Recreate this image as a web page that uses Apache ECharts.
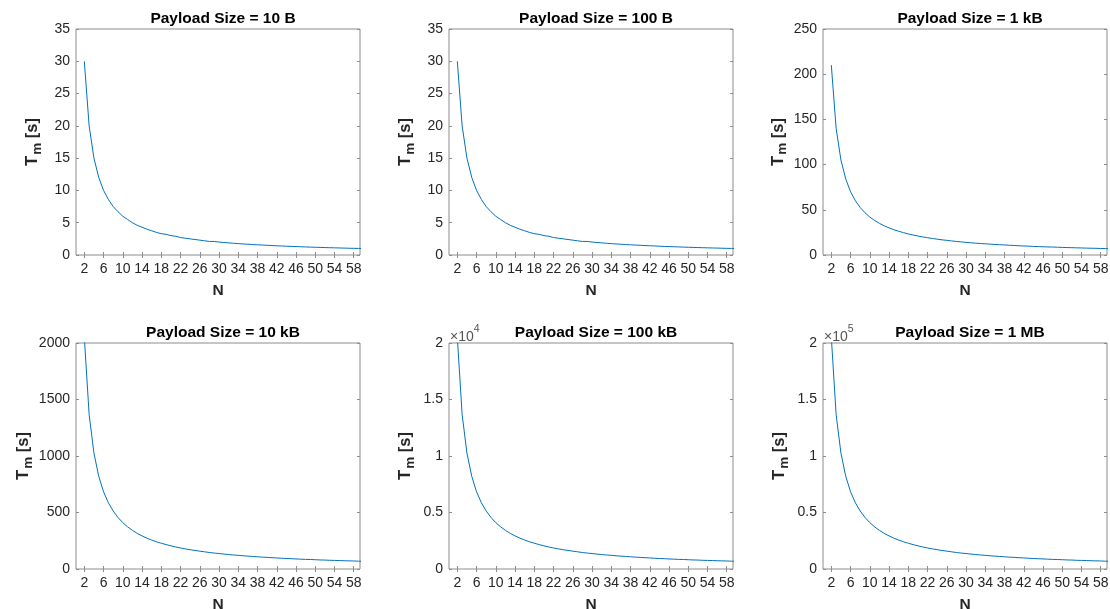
<!DOCTYPE html>
<html>
<head>
<meta charset="utf-8">
<script src="https://cdn.jsdelivr.net/npm/echarts@6/dist/echarts.min.js"></script>
<style>
    html, body { margin: 0; background: #fff; }
    #chart { width: 1110px; height: 609px; }
</style>
</head>
<body>
<div id="chart"></div>
<script>
// N values on the x axis
const nValues = [2, 3, 4, 5, 6, 7, 8, 9, 10, 11, 12, 13, 14, 15, 16, 17, 18, 19, 20, 21, 22, 23, 24, 25, 26, 27, 28, 29, 30,
    31, 32, 33, 34, 35, 36, 37, 38, 39, 40, 41, 42, 43, 44, 45, 46, 47, 48, 49, 50, 51, 52, 53, 54, 55, 56, 57, 58, 59, 60];

// Tm [s]
const tm10B = [30, 20, 15, 12, 10, 8.6, 7.5, 6.7, 6, 5.5, 5, 4.6, 4.3, 4, 3.75, 3.5, 3.3, 3.2, 3, 2.9, 2.7, 2.6, 2.5, 2.4, 2.3,
    2.2, 2.1, 2.1, 2, 1.94, 1.88, 1.82, 1.76, 1.71, 1.67, 1.62, 1.58, 1.54, 1.5, 1.46, 1.43, 1.4, 1.36, 1.33, 1.3, 1.28,
    1.25, 1.22, 1.2, 1.18, 1.15, 1.13, 1.11, 1.09, 1.07, 1.05, 1.03, 1.02, 1];
const tm100B = [30, 20, 15, 12, 10, 8.6, 7.5, 6.7, 6, 5.5, 5, 4.6, 4.3, 4, 3.75, 3.5, 3.3, 3.2, 3, 2.9, 2.7, 2.6, 2.5, 2.4, 2.3,
    2.2, 2.1, 2.1, 2, 1.94, 1.88, 1.82, 1.76, 1.71, 1.67, 1.62, 1.58, 1.54, 1.5, 1.46, 1.43, 1.4, 1.36, 1.33, 1.3, 1.28,
    1.25, 1.22, 1.2, 1.18, 1.15, 1.13, 1.11, 1.09, 1.07, 1.05, 1.03, 1.02, 1];
const tm1kB = [210, 140, 105, 84, 70, 60, 52.5, 46.7, 42, 38.2, 35, 32.3, 30, 28, 26.3, 24.7, 23.3, 22.1, 21, 20, 19.1, 18.3,
    17.5, 16.8, 16.2, 15.6, 15, 14.5, 14, 13.5, 13.1, 12.7, 12.4, 12, 11.7, 11.4, 11.1, 10.8, 10.5, 10.2, 10, 9.8, 9.5, 9.3,
    9.1, 8.9, 8.8, 8.6, 8.4, 8.2, 8.1, 7.9, 7.8, 7.6, 7.5, 7.4, 7.2, 7.1, 7];
const tm10kB = [2050, 1367, 1025, 820, 683, 586, 513, 456, 410, 373, 342, 315, 293, 273, 256, 241, 228, 216, 205, 195, 186,
    178, 171, 164, 158, 152, 146, 141, 137, 132, 128, 124, 121, 117, 114, 111, 108, 105, 103, 100, 98, 95, 93, 91, 89, 87,
    85, 84, 82, 80, 79, 77, 76, 75, 73, 72, 71, 69, 68];
const tm100kB = [20500, 13670, 10250, 8200, 6830, 5860, 5130, 4560, 4100, 3730, 3420, 3150, 2930, 2730, 2560, 2410, 2280,
    2160, 2050, 1950, 1860, 1780, 1710, 1640, 1580, 1520, 1460, 1410, 1370, 1320, 1280, 1240, 1210, 1170, 1140, 1110, 1080,
    1050, 1030, 1000, 980, 950, 930, 910, 890, 870, 850, 840, 820, 800, 790, 770, 760, 750, 730, 720, 710, 690, 680];
const tm1MB = [205000, 136700, 102500, 82000, 68300, 58600, 51300, 45600, 41000, 37300, 34200, 31500, 29300, 27300, 25600,
    24100, 22800, 21600, 20500, 19500, 18600, 17800, 17100, 16400, 15800, 15200, 14600, 14100, 13700, 13200, 12800, 12400,
    12100, 11700, 11400, 11100, 10800, 10500, 10300, 10000, 9800, 9500, 9300, 9100, 8900, 8700, 8500, 8400, 8200, 8000,
    7900, 7700, 7600, 7500, 7300, 7200, 7100, 6900, 6800];

const panelTitles = ['Payload Size = 10 B', 'Payload Size = 100 B', 'Payload Size = 1 kB',
    'Payload Size = 10 kB', 'Payload Size = 100 kB', 'Payload Size = 1 MB'];
const panelSeries = [tm10B, tm100B, tm1kB, tm10kB, tm100kB, tm1MB];
const yMax = [35, 35, 250, 2000, 20000, 200000];
const yStep = [5, 5, 50, 500, 5000, 50000];
const yScale = [1, 1, 1, 1, 1e4, 1e5]; // exponent shown as ×10^k
const xTicks = [2, 6, 10, 14, 18, 22, 26, 30, 34, 38, 42, 46, 50, 54, 58];
const xMin = 0.27, xMax = 59.3;

const chart = echarts.init(document.getElementById('chart'));

// positions of the six axes boxes (px)
const cols = [76, 449, 823];
const rows = [29, 343];
const boxW = 284, boxH = 226;

const font = 'Liberation Sans, Helvetica, Arial, sans-serif';
const axisGray = '#8c8c8c';
const labelColor = '#262626';
const lineBlue = '#0072BD';

const grids = [], xAxes = [], yAxes = [], series = [], titles = [], graphics = [];

panelTitles.forEach((title, i) => {
    const left = cols[i % 3];
    const top = rows[Math.floor(i / 3)];
    grids.push({ left: left, top: top, width: boxW, height: boxH, show: true,
        borderColor: axisGray, borderWidth: 1, backgroundColor: '#fff', outerBoundsMode: 'none' });

    titles.push({
        text: title,
        left: left + boxW / 2,
        top: top - 23,
        textAlign: 'center',
        textStyle: { fontFamily: font, fontSize: 15.5, fontWeight: 'bold', color: '#000' },
    });

    const tickStyle = { inside: true, length: 3, lineStyle: { color: axisGray } };
    // bottom x axis with labels
    xAxes.push({
        type: 'value', gridIndex: i, min: xMin, max: xMax, position: 'bottom',
        name: 'N', nameLocation: 'middle', nameGap: 28,
        nameTextStyle: { fontFamily: font, fontSize: 15.5, fontWeight: 'bold', color: labelColor },
        axisLine: { show: false },
        axisTick: Object.assign({ customValues: xTicks }, tickStyle),
        axisLabel: { customValues: xTicks, fontFamily: font, fontSize: 14, color: labelColor, margin: 7 },
        splitLine: { show: false },
    });
    // top x axis, ticks only
    xAxes.push({
        type: 'value', gridIndex: i, min: xMin, max: xMax, position: 'top',
        axisLine: { show: false },
        axisTick: Object.assign({ customValues: xTicks }, tickStyle),
        axisLabel: { show: false },
        splitLine: { show: false },
    });
    const sc = yScale[i];
    yAxes.push({
        type: 'value', gridIndex: i, min: 0, max: yMax[i], interval: yStep[i], position: 'left',
        name: '{t|T}{s|m}{t| [s]}', nameLocation: 'middle', nameGap: 32, nameRotate: 90,
        nameTextStyle: {
            rich: {
                t: { fontFamily: font, fontSize: 16.5, fontWeight: 'bold', color: labelColor },
                s: { fontFamily: font, fontSize: 13.5, fontWeight: 'bold', color: labelColor, padding: [9, 0, 0, 1] },
            },
        },
        axisLine: { show: false },
        axisTick: tickStyle,
        axisLabel: { fontFamily: font, fontSize: 14, color: labelColor, margin: 6,
            formatter: v => String(+(v / sc).toFixed(2)) },
        splitLine: { show: false },
    });
    yAxes.push({
        type: 'value', gridIndex: i, min: 0, max: yMax[i], interval: yStep[i], position: 'right',
        axisLine: { show: false },
        axisTick: tickStyle,
        axisLabel: { show: false },
        splitLine: { show: false },
    });

    series.push({
        type: 'line',
        xAxisIndex: 2 * i,
        yAxisIndex: 2 * i,
        data: nValues.map((n, k) => [n, panelSeries[i][k]]),
        showSymbol: false,
        clip: true,
        lineStyle: { color: lineBlue, width: 1 },
        silent: true,
    });

    if (sc !== 1) {
        graphics.push({
            type: 'text',
            left: left + 1,
            top: top - 19,
            style: {
                text: '{x|×10}{p|' + Math.round(Math.log10(sc)) + '}',
                rich: {
                    x: { fontFamily: font, fontSize: 14, fill: '#555', padding: [6, 0, 0, 0] },
                    p: { fontFamily: font, fontSize: 10.5, fill: '#555', verticalAlign: 'top' },
                },
            },
        });
    }
});

chart.setOption({
    backgroundColor: '#fff',
    animation: false,
    title: titles,
    grid: grids,
    xAxis: xAxes,
    yAxis: yAxes,
    series: series,
    graphic: graphics,
});
</script>
</body>
</html>
